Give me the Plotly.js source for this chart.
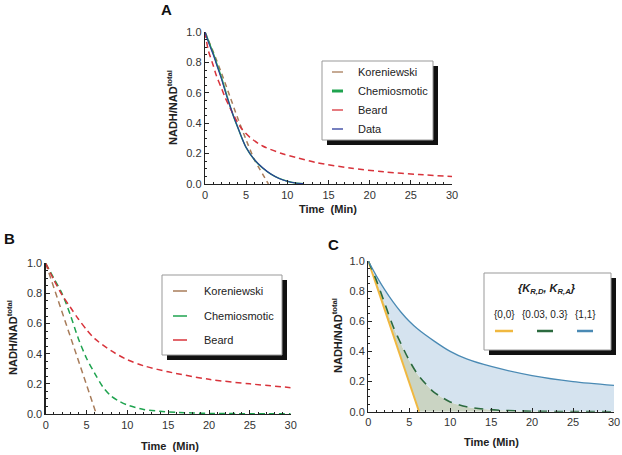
<!DOCTYPE html>
<html>
<head>
<meta charset="utf-8">
<script src="https://cdn.plot.ly/plotly-3.0.1.min.js"></script>
<style>html,body{margin:0;padding:0;background:#fff;}#chart{width:622px;height:455px;}</style>
</head>
<body>
<div id="chart"></div>
<script>
// ---------- Panel A ----------
const tA_kor  = [0, 1, 2, 3, 4, 5, 6, 7, 7.7];
const yA_kor  = [1, 0.87, 0.73, 0.58, 0.43, 0.29, 0.16, 0.065, 0];
const tA_chem = [0, 0.5, 1, 1.5, 2, 2.5, 3, 3.5, 4, 4.5, 5, 6, 7, 8, 9, 10, 11, 12];
const yA_chem = [1, 0.93, 0.86, 0.78, 0.70, 0.61, 0.52, 0.44, 0.37, 0.30, 0.24, 0.16, 0.105, 0.065, 0.037, 0.018, 0.007, 0.002];
const yA_data = [1, 0.92, 0.85, 0.77, 0.69, 0.60, 0.52, 0.44, 0.37, 0.30, 0.24, 0.16, 0.107, 0.066, 0.037, 0.018, 0.007, 0.002];
const tA_beard = [0, 0.4, 1, 1.4, 2, 2.4, 3, 3.9, 4.5, 5.5, 7, 9.5, 11, 13.6, 17.6, 21.7, 26, 30];
const yA_beard = [1, 0.88, 0.78, 0.71, 0.63, 0.575, 0.505, 0.41, 0.36, 0.305, 0.25, 0.197, 0.175, 0.14, 0.105, 0.08, 0.062, 0.05];

// ---------- Panel B ----------
const tB_kor  = [0, 1, 2, 3, 4, 5, 6.2];
const yB_kor  = [1, 0.84, 0.68, 0.52, 0.36, 0.19, 0.0];
const tB_chem = [0, 1, 2, 3, 4, 5, 6, 7, 8, 9, 10, 12, 14, 16, 18, 20, 25, 30];
const yB_chem = [1, 0.9, 0.8, 0.66, 0.5, 0.37, 0.27, 0.18, 0.12, 0.085, 0.06, 0.03, 0.018, 0.011, 0.007, 0.004, 0.002, 0.001];
const tB_beard = [0, 1, 2, 3, 4, 5, 6, 8, 10, 12, 15, 20, 25, 30];
const yB_beard = [1, 0.89, 0.79, 0.71, 0.63, 0.56, 0.5, 0.42, 0.36, 0.32, 0.28, 0.23, 0.2, 0.175];

// ---------- Panel C ----------
const tC_00   = [0, 2, 4, 6.2];
const yC_00   = [1, 0.68, 0.35, 0];
const tC_mid  = [0, 1, 2, 3, 4, 5, 6, 7, 8, 9, 10, 12, 14, 16, 18, 20, 25, 30];
const yC_mid  = [1, 0.87, 0.72, 0.57, 0.45, 0.34, 0.25, 0.185, 0.13, 0.095, 0.065, 0.033, 0.018, 0.01, 0.006, 0.003, 0.001, 0];
const tC_11   = [0, 1, 2, 3, 4, 5, 6, 8, 10, 12, 15, 20, 25, 30];
const yC_11   = [1, 0.9, 0.81, 0.73, 0.66, 0.6, 0.55, 0.47, 0.4, 0.35, 0.3, 0.24, 0.2, 0.175];

const legendA = ['Koreniewski', 'Chemiosmotic', 'Beard', 'Data'];
const legendB = ['Koreniewski', 'Chemiosmotic', 'Beard'];
const legendC = ['{0,0}', '{0.03, 0.3}', '{1,1}'];
const xTicks = [0, 5, 10, 15, 20, 25, 30];
const yTicks = [0, 0.2, 0.4, 0.6, 0.8, 1.0];

const W = 622, H = 455;
const px = v => v / W, py = v => 1 - v / H;

const colKor = '#a87c5a', colChem = '#1fa34f', colBeard = '#d8333b', colData = '#2c3b9c';
const colC0 = '#f0b840', colCm = '#2b6a3f', colC1 = '#4a8ab4';

function line(x, y, xa, ya, color, dash, width, name, smooth) {
  return {x: x, y: y, xaxis: xa, yaxis: ya, type: 'scatter', mode: 'lines', name: name,
          line: {color: color, dash: dash, width: width, shape: smooth ? 'spline' : 'linear', smoothing: 0.8},
          showlegend: false, hoverinfo: 'skip'};
}

const traces = [
  line(tA_kor, yA_kor, 'x', 'y', colKor, '5px,4px', 1.5, legendA[0], true),
  line(tA_chem, yA_chem, 'x', 'y', colChem, 'solid', 1.5, legendA[1], true),
  line(tA_beard, yA_beard, 'x', 'y', colBeard, '6px,4px', 1.5, legendA[2], true),
  line(tA_chem, yA_data, 'x', 'y', colData, 'solid', 1.1, legendA[3], true),

  line(tB_kor, yB_kor, 'x2', 'y2', colKor, '6px,4px', 1.5, legendB[0], false),
  line(tB_chem, yB_chem, 'x2', 'y2', colChem, '6px,4px', 1.5, legendB[1], true),
  line(tB_beard, yB_beard, 'x2', 'y2', colBeard, '6px,4px', 1.5, legendB[2], true),

  line(tC_00, yC_00, 'x3', 'y3', colC0, 'solid', 2, legendC[0], false),
  Object.assign(line(tC_mid, yC_mid, 'x3', 'y3', colCm, '9px,7px', 1.6, legendC[1], true),
    {fill: 'tonexty', fillcolor: '#cad4c3'}),
  Object.assign(line(tC_11, yC_11, 'x3', 'y3', colC1, 'solid', 1.3, legendC[2], true),
    {fill: 'tonexty', fillcolor: '#d5e3ef'})
];

function xax(l, r, anchor) {
  return {domain: [px(l), px(r)], anchor: anchor, range: [0, 30], tickvals: xTicks,
    ticks: 'inside', ticklen: 4, tickwidth: 1, tickcolor: '#222',
    showline: true, linecolor: '#222', linewidth: 1.3, showgrid: false, zeroline: false,
    tickfont: {family: 'Liberation Sans, Arial, sans-serif', size: 11, color: '#333'},
    minor: {dtick: 1, ticks: 'inside', ticklen: 2, tickcolor: '#222', showgrid: false}};
}
function yax(t, b, anchor) {
  return {domain: [py(b), py(t)], anchor: anchor, range: [0, 1], tickvals: yTicks, tickformat: '.1f',
    ticks: 'inside', ticklen: 4, tickwidth: 1, tickcolor: '#222',
    showline: true, linecolor: '#222', linewidth: 1.3, showgrid: false, zeroline: false,
    tickfont: {family: 'Liberation Sans, Arial, sans-serif', size: 11, color: '#333'},
    minor: {dtick: 0.05, ticks: 'inside', ticklen: 2, tickcolor: '#222', showgrid: false}};
}

const font = 'Liberation Sans, Arial, sans-serif';
const ann = [];
function text(x, y, t, opts) {
  ann.push(Object.assign({xref: 'paper', yref: 'paper', x: px(x), y: py(y), text: t, showarrow: false,
    xanchor: 'center', yanchor: 'middle', font: {family: font, size: 11, color: '#222'}}, opts || {}));
}
// panel letters
text(166, 9, '<b>A</b>', {font: {family: font, size: 15, color: '#111'}});
text(9, 238, '<b>B</b>', {font: {family: font, size: 15, color: '#111'}});
text(333, 244, '<b>C</b>', {font: {family: font, size: 15, color: '#111'}});
// axis titles
text(328, 209, '<b>Time  (Min)</b>');
text(170, 446, '<b>Time  (Min)</b>');
text(491, 442, '<b>Time (Min)</b>');
text(172, 108, '<b>NADH/NAD<sup>total</sup></b>', {textangle: -90});
text(12, 338, '<b>NADH/NAD<sup>total</sup></b>', {textangle: -90});
text(337, 336, '<b>NADH/NAD<sup>total</sup></b>', {textangle: -90});

const shapes = [];
function legendBox(x0, y0, x1, y1) {
  shapes.push({type: 'rect', xref: 'paper', yref: 'paper', x0: px(x0 + 5), x1: px(x1 + 5), y0: py(y1 + 5), y1: py(y0 + 5),
    fillcolor: '#111', line: {width: 0}, layer: 'above'});
  shapes.push({type: 'rect', xref: 'paper', yref: 'paper', x0: px(x0), x1: px(x1), y0: py(y1), y1: py(y0),
    fillcolor: '#fff', line: {color: '#999', width: 1}, layer: 'above'});
}
function sample(x0, x1, y, color, width, dash) {
  shapes.push({type: 'line', xref: 'paper', yref: 'paper', x0: px(x0), x1: px(x1), y0: py(y), y1: py(y),
    line: {color: color, width: width, dash: dash || 'solid'}, layer: 'above'});
}
// Legend A
legendBox(322, 61, 433, 140);
const legA_cols = [colKor, colChem, colBeard, colData];
const legA_w = [1.3, 3, 1.3, 1.3];
const legA_y = [72, 91, 110, 129];
legendA.forEach((n, i) => {
  sample(332, 343, legA_y[i], legA_cols[i], legA_w[i]);
  text(356, legA_y[i], n, {xanchor: 'left', font: {family: font, size: 11, color: '#222'}});
});
// Legend B
legendBox(162, 275, 282, 355);
const legB_cols = [colKor, colChem, colBeard];
const legB_y = [291, 316, 340];
legendB.forEach((n, i) => {
  sample(173, 187, legB_y[i], legB_cols[i], 1.5);
  text(202, legB_y[i], n, {xanchor: 'left', font: {family: font, size: 11, color: '#222'}});
});
// Legend C
legendBox(484, 273, 611, 350);
text(547, 289, '<b><i>{K<sub>R,D</sub>, K<sub>R,A</sub>}</i></b>', {font: {family: font, size: 11, color: '#222'}});
const legC_cols = [colC0, colCm, colC1];
const legC_x = [504, 545, 585];
const legC_half = [9, 8, 8];
legendC.forEach((n, i) => {
  text(legC_x[i], 314, n, {font: {family: font, size: 10, color: '#222'}});
  sample(legC_x[i] - legC_half[i], legC_x[i] + legC_half[i], 331, legC_cols[i], 2.5);
});

const layout = {
  width: W, height: H, margin: {l: 0, r: 0, t: 0, b: 0},
  paper_bgcolor: '#fff', plot_bgcolor: 'rgba(0,0,0,0)', showlegend: false,
  font: {family: font, size: 11, color: '#222'},
  xaxis: xax(205, 452, 'y'), yaxis: yax(32, 184, 'x'),
  xaxis2: xax(45.7, 290.7, 'y2'), yaxis2: yax(263.3, 414, 'x2'),
  xaxis3: xax(368.3, 614, 'y3'), yaxis3: yax(261, 411.7, 'x3'),
  annotations: ann, shapes: shapes
};

Plotly.newPlot('chart', traces, layout, {displayModeBar: false, staticPlot: true});
</script>
</body>
</html>
